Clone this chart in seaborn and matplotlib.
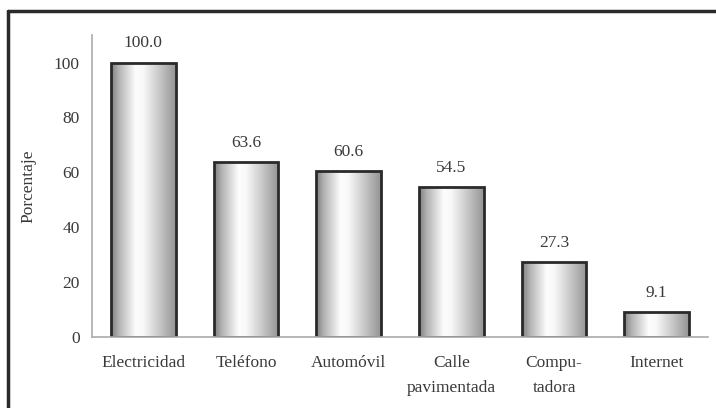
import numpy as np
import pandas as pd
import matplotlib
matplotlib.use('Agg')
import matplotlib.pyplot as plt
import seaborn as sns
from matplotlib.lines import Line2D

# Datos
categorias = ["Electricidad", "Teléfono", "Automóvil", "Calle\npavimentada", "Compu-\ntadora", "Internet"]
porcentajes = [100.0, 63.6, 60.6, 54.5, 27.3, 9.1]

df = pd.DataFrame({"categoria": categorias, "porcentaje": porcentajes})

sns.set_style("white")
plt.rcParams['font.family'] = ['Liberation Serif', 'DejaVu Serif']
texto = "#3a3a3a"
fs = 12.5

fig = plt.figure(figsize=(7.16, 4.08), dpi=100)
ax = fig.add_axes([0.1285, 0.174, 0.8605, 0.74])

sns.barplot(data=df, x="categoria", y="porcentaje", ax=ax, width=0.63,
            color="white", edgecolor="#2a2a2a", linewidth=2)

# Degradado horizontal tipo cilindro en cada barra
xs = np.linspace(0, 1, 200)
grad = np.interp(xs, [0, 0.12, 0.38, 0.5, 0.8, 1.0], [0.5, 0.7, 0.99, 0.97, 0.74, 0.58])
grad = np.tile(grad, (2, 1))
for p in ax.patches:
    x0, y0 = p.get_x(), p.get_y()
    w, h = p.get_width(), p.get_height()
    im = ax.imshow(grad, cmap="gray", vmin=0, vmax=1, aspect="auto",
                   extent=[x0, x0 + w, y0, y0 + h], zorder=p.get_zorder() - 0.1)
    im.set_clip_path(p)
    p.set_facecolor("none")

for p, v in zip(ax.patches, porcentajes):
    ax.annotate(f"{v:.1f}", (p.get_x() + p.get_width() / 2, v), xytext=(0, 8),
                textcoords="offset points", ha="center", va="bottom",
                fontsize=fs, color=texto)

ax.set_xlim(-0.5, len(categorias) - 0.5)
ax.set_ylim(0, 110)
ax.set_yticks([0, 20, 40, 60, 80, 100])
ax.set_xticks(np.arange(len(categorias)))
ax.set_xticklabels(categorias, fontsize=fs, color=texto, linespacing=1.75)
ax.tick_params(axis="x", length=0, pad=13)
ax.tick_params(axis="y", direction="in", length=3, color="#aaaaaa", labelsize=fs,
               labelcolor=texto, pad=9)
# marcas entre categorías
ax.set_xticks(np.arange(len(categorias)) + 0.5, minor=True)
ax.tick_params(axis="x", which="minor", direction="in", length=4, color="#aaaaaa")

ax.set_xlabel("")
ax.set_ylabel("Porcentaje", fontsize=fs, color=texto, labelpad=12)

for s in ["top", "right"]:
    ax.spines[s].set_visible(False)
for s in ["left", "bottom"]:
    ax.spines[s].set_color("#aaaaaa")
    ax.spines[s].set_linewidth(1.2)

# marco de la figura (borde superior e izquierdo)
fig.add_artist(Line2D([0.011, 1.0], [0.973, 0.973], transform=fig.transFigure,
                      color="#2a2a2a", linewidth=2.5))
fig.add_artist(Line2D([0.011, 0.011], [0.0, 0.973], transform=fig.transFigure,
                      color="#2a2a2a", linewidth=2.5))

fig.savefig("out.png", dpi=100)
